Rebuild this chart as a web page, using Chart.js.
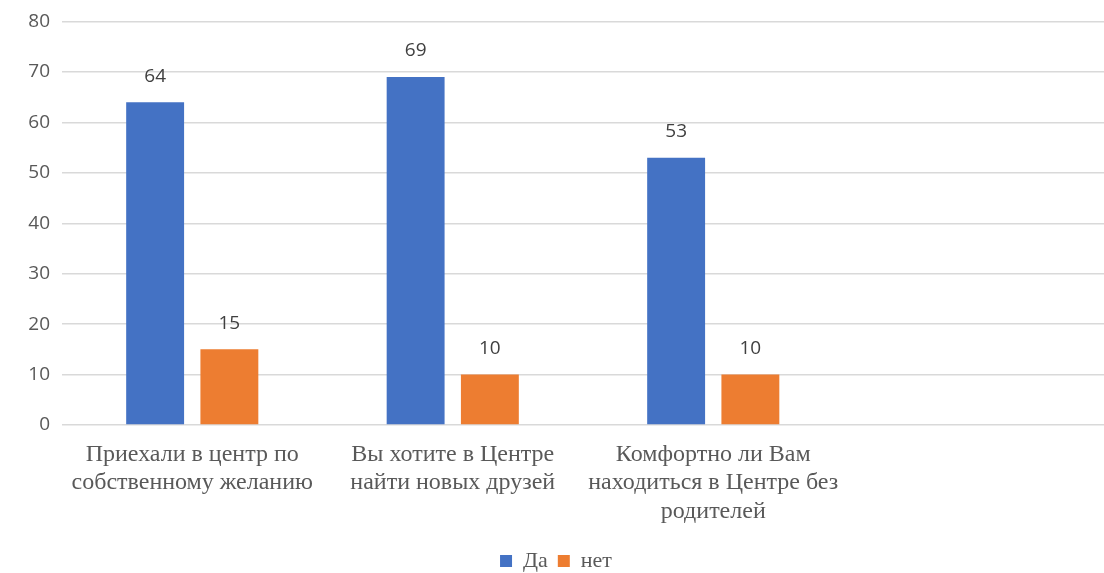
<!DOCTYPE html>
<html>
<head>
<meta charset="utf-8">
<script src="https://cdn.jsdelivr.net/npm/chart.js@4.4.1/dist/chart.umd.min.js"></script>
<style>
  html, body { margin: 0; padding: 0; background: #fff; }
  #wrap { width: 1104px; height: 573px; }
</style>
</head>
<body>
<div id="wrap"><canvas id="chart"></canvas></div>
<script>
// categories (the fourth one is empty in the original)
const categories = [
    ['Приехали в центр по', 'собственному желанию'],
    ['Вы хотите в Центре', 'найти новых друзей'],
    ['Комфортно ли Вам', 'находиться в Центре без', 'родителей'],
    ''
];
const yesValues = [64, 69, 53, null];
const noValues = [15, 10, 10, null];
const yTicks = [0, 10, 20, 30, 40, 50, 60, 70, 80];

// simple value labels above bars
const barLabels = {
    id: 'barLabels',
    afterDatasetsDraw(chart) {
        const ctx = chart.ctx;
        ctx.save();
        ctx.font = '19px "Open Sans", sans-serif';
        ctx.fillStyle = '#404040';
        ctx.textAlign = 'center';
        ctx.textBaseline = 'middle';
        chart.data.datasets.forEach((ds, i) => {
            chart.getDatasetMeta(i).data.forEach((bar, j) => {
                if (ds.data[j] == null) return;
                ctx.fillText(ds.data[j], bar.x, bar.y - 26);
            });
        });
        ctx.restore();
    }
};

new Chart(document.getElementById('chart'), {
    type: 'bar',
    data: {
        labels: categories,
        datasets: [{
            label: 'Да',
            data: yesValues,
            backgroundColor: '#4472c4',
            categoryPercentage: 0.57,
            barPercentage: 0.78
        }, {
            label: 'нет',
            data: noValues,
            backgroundColor: '#ed7d31',
            categoryPercentage: 0.57,
            barPercentage: 0.78
        }]
    },
    options: {
        responsive: true,
        maintainAspectRatio: false,
        animation: false,
        layout: { padding: { top: 4, right: 0, left: 8, bottom: -9 } },
        plugins: {
            legend: {
                position: 'bottom',
                labels: {
                    usePointStyle: true,
                    pointStyle: 'rect',
                    boxWidth: 12,
                    boxHeight: 12,
                    padding: 10,
                    color: '#595959',
                    font: { family: '"Liberation Serif", serif', size: 22 }
                }
            },
            tooltip: { enabled: false }
        },
        scales: {
            y: {
                min: 0,
                max: 80,
                afterBuildTicks: (axis) => { axis.ticks = yTicks.map(v => ({ value: v })); },
                afterFit: (axis) => { axis.width = 54; },
                border: { display: false },
                grid: { color: '#d9d9d9', lineWidth: 1.5, drawTicks: false },
                ticks: {
                    padding: 12,
                    color: '#595959',
                    font: { family: '"Open Sans", sans-serif', size: 19, lineHeight: 1.0 }
                }
            },
            x: {
                afterFit: (axis) => { axis.height = 115; },
                border: { display: false },
                grid: { display: false },
                ticks: {
                    maxRotation: 0,
                    autoSkip: false,
                    padding: 7,
                    color: '#595959',
                    font: { family: '"Liberation Serif", serif', size: 24, lineHeight: 1.2 }
                }
            }
        }
    },
    plugins: [barLabels]
});
</script>
</body>
</html>
